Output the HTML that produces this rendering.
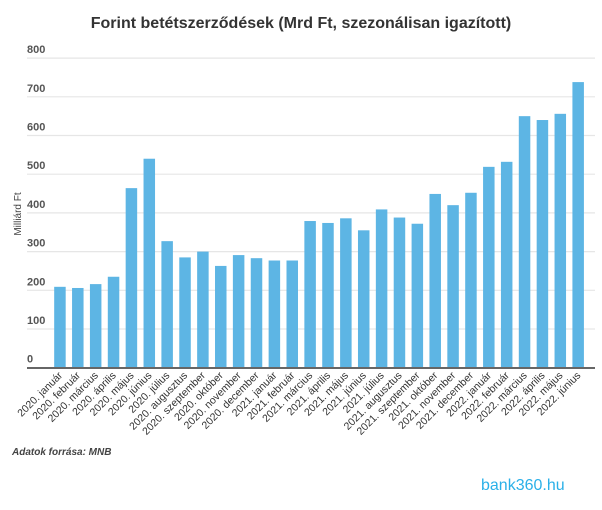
<!DOCTYPE html>
<html><head><meta charset="utf-8"><style>
body{margin:0;background:#fff;width:602px;height:505px;overflow:hidden;font-family:"Liberation Sans",sans-serif}
</style></head><body>
<svg width="602" height="505" xmlns="http://www.w3.org/2000/svg">
<text x="301" y="28" text-anchor="middle" font-size="16" font-weight="bold" fill="#333">Forint betétszerződések (Mrd Ft, szezonálisan igazított)</text>
<text transform="translate(21,214) rotate(-90)" text-anchor="middle" font-size="10" fill="#444">Milliárd Ft</text>
<g id="grid"></g><g id="bars"></g><g id="xlabels"></g>
<line x1="27" x2="595" y1="368" y2="368" stroke="#666" stroke-width="2"/>
<text x="12" y="455" font-size="10" font-style="italic" font-weight="bold" fill="#444">Adatok forrása: MNB</text>
<text x="481" y="490" font-size="16" fill="#2ab0e8">bank360.hu</text>
</svg>
<script>
const categories=["2020. január","2020. február","2020. március","2020. április","2020. május","2020. június","2020. július","2020. augusztus","2020. szeptember","2020. október","2020. november","2020. december","2021. január","2021. február","2021. március","2021. április","2021. május","2021. június","2021. július","2021. augusztus","2021. szeptember","2021. október","2021. november","2021. december","2022. január","2022. február","2022. március","2022. április","2022. május","2022. június"];
const values=[209,206,216,235,464,540,327,285,300,263,291,283,277,277,379,374,386,355,409,388,372,449,420,452,519,532,650,640,656,738];
const yTicks=[0,100,200,300,400,500,600,700,800];
const NS="http://www.w3.org/2000/svg";
const y0=367.7,pxPer=0.387,x0=51,band=17.87,bw=11.5;
const y=v=>y0-v*pxPer, x=i=>x0+i*band;
const grid=document.getElementById('grid'),bars=document.getElementById('bars'),xl=document.getElementById('xlabels');
yTicks.forEach(t=>{
 if(t>0){const l=document.createElementNS(NS,'line');
 l.setAttribute('x1',27);l.setAttribute('x2',595);l.setAttribute('y1',y(t));l.setAttribute('y2',y(t));
 l.setAttribute('stroke','#e6e6e6');l.setAttribute('stroke-width','1.2');
 
 
 grid.appendChild(l);}
 const tx=document.createElementNS(NS,'text');
 tx.setAttribute('x',27);tx.setAttribute('y',y(t)-5);tx.setAttribute('font-size','11');tx.setAttribute('font-weight','bold');tx.setAttribute('fill','#555');
 tx.textContent=t;
 
 
 grid.appendChild(tx);
});
values.forEach((v,i)=>{
 const r=document.createElementNS(NS,'rect');
 const cx=x(i)+band/2;
 r.setAttribute('x',cx-bw/2);r.setAttribute('y',y(v));r.setAttribute('width',bw);r.setAttribute('height',y0-y(v));
 r.setAttribute('fill','#5db5e4');
 
 
 bars.appendChild(r);
 const t=document.createElementNS(NS,'text');
 t.setAttribute('transform',`translate(${cx+3},${376}) rotate(-45)`);
 t.setAttribute('text-anchor','end');t.setAttribute('font-size','10.5');t.setAttribute('fill','#333');
 t.textContent=categories[i];
 
 
 xl.appendChild(t);
});
</script>
</body></html>
